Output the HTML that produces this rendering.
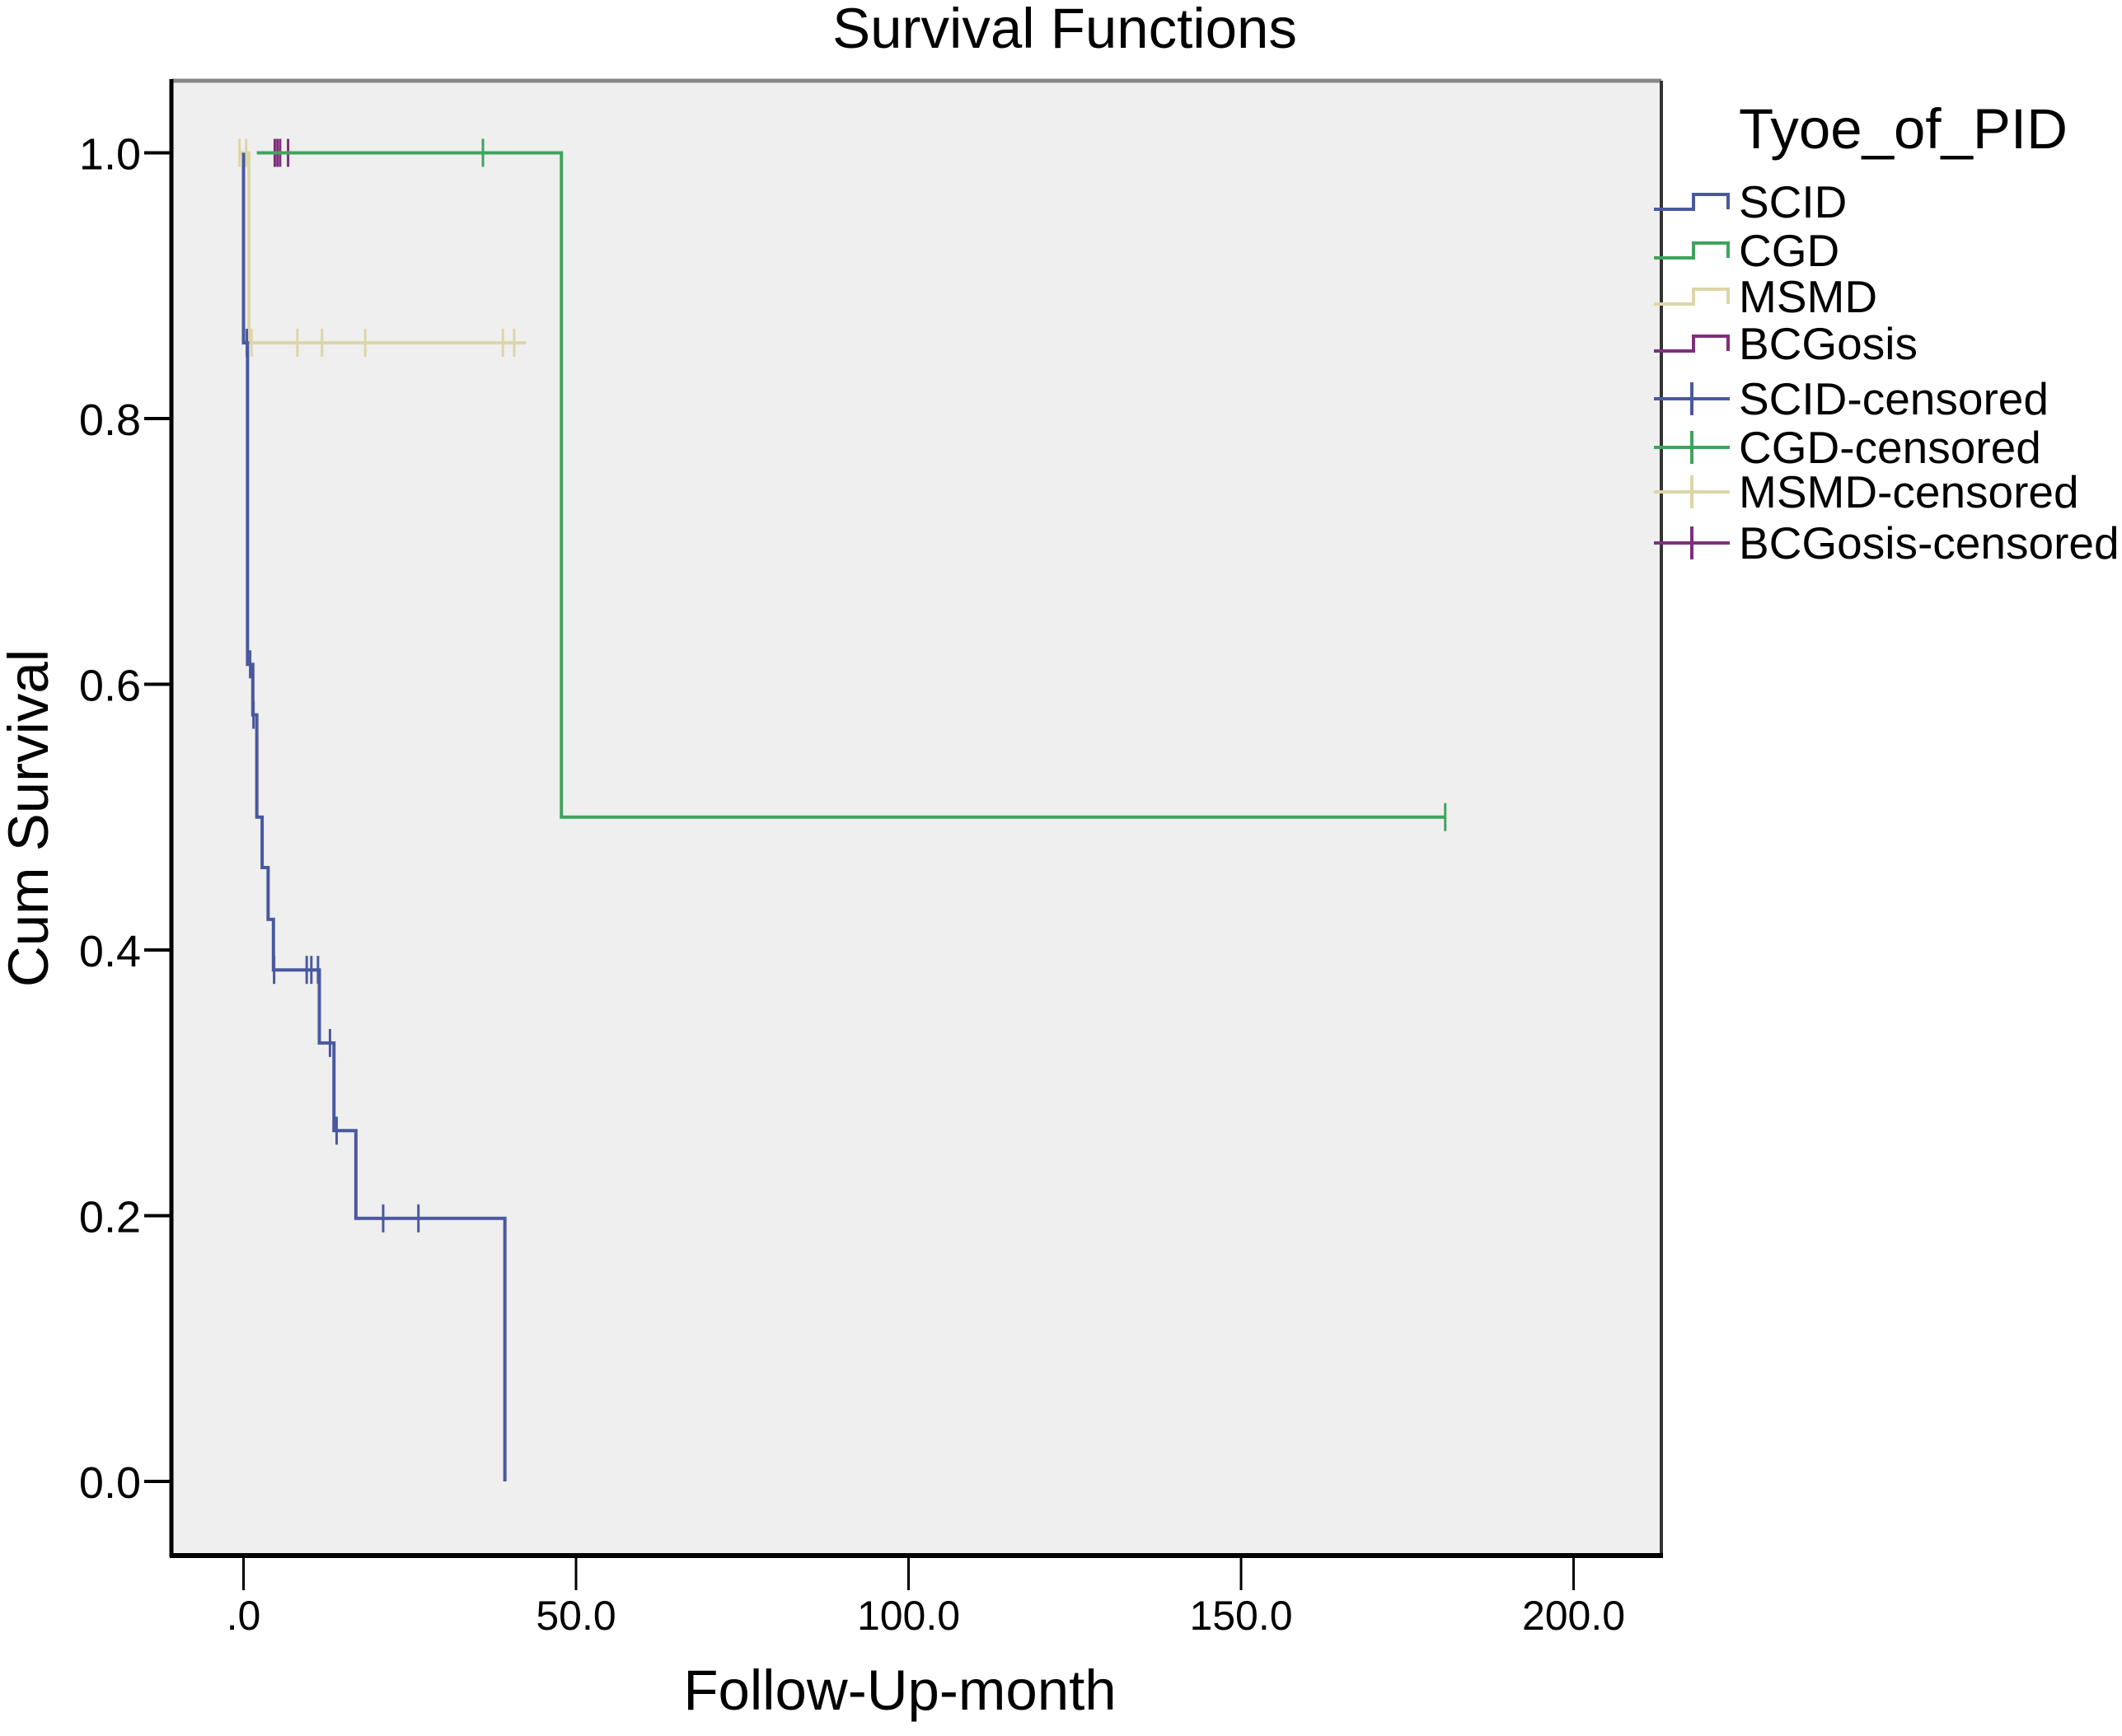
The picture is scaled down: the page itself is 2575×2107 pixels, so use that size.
<!DOCTYPE html>
<html><head><meta charset="utf-8"><style>
html,body{margin:0;padding:0;background:#fff;}
svg{display:block;font-family:"Liberation Sans",Arial,sans-serif;}
</style></head><body>
<svg id="chart" width="2575" height="2107" viewBox="0 0 2575 2107">
<rect x="208" y="98" width="1808" height="1790" fill="#efefef"/>
<g id="marks"></g>
<line x1="208" y1="98" x2="2016" y2="98" stroke="#888" stroke-width="5"/>
<line x1="2016" y1="98" x2="2016" y2="1888" stroke="#333" stroke-width="4"/>
<line x1="208" y1="96" x2="208" y2="1890" stroke="#000" stroke-width="5"/>
<line x1="206" y1="1888" x2="2018" y2="1888" stroke="#000" stroke-width="6"/>
<g id="axes"></g>
<text x="1292" y="58" font-size="69" text-anchor="middle">Survival Functions</text>
<text x="1092" y="2075" font-size="69" text-anchor="middle">Follow-Up-month</text>
<text transform="translate(58,993) rotate(-90)" font-size="69" text-anchor="middle">Cum Survival</text>
<g id="legend">
<text x="2110" y="180" font-size="69">Tyoe_of_PID</text>
</g>
</svg>
<script>
const xTicks=[0,50,100,150,200];
const xTickLabels=[".0","50.0","100.0","150.0","200.0"];
const yTicks=[0,0.2,0.4,0.6,0.8,1.0];
const yTickLabels=["0.0","0.2","0.4","0.6","0.8","1.0"];
const seriesNames=["SCID","CGD","MSMD","BCGosis"];
const seriesColors=["#4a58a0","#3fa35e","#ddd5a8","#7e2f7c"];
const scidTimes=[0,0.6,1.4,2.0,2.8,3.7,4.5,11.4,13.6,16.9,39.3];
const scidSurv=[0.857,0.615,0.577,0.5,0.462,0.423,0.385,0.33,0.264,0.198,0];
const scidCens=[0.5,1.0,1.5,4.6,9.5,10.2,11.2,13.0,14.0,21.0,26.3];
const cgdTimes=[47.8];
const cgdSurv=[0.5];
const cgdCens=[36.0,180.7];
const msmdTimes=[0.8];
const msmdSurv=[0.857];
const msmdCens=[-0.6,0.4,1.2,8.1,11.8,18.3,39.0,40.7];
const bcgTimes=[];
const bcgSurv=[];
const bcgCens=[4.7,5.1,5.5,6.7];
const startTimes=[0,2,-0.6,3.5];
const endTimes=[39.3,180.7,42.5,6.7];

const NS="http://www.w3.org/2000/svg";
function xs(t){return 295.5+t*8.07;}
function ys(v){return 1798-v*1612.5;}
function mk(tag,attrs,parent){const e=document.createElementNS(NS,tag);for(const k in attrs)e.setAttribute(k,attrs[k]);parent.appendChild(e);return e;}
const axes=document.getElementById('axes');
xTicks.forEach((t,i)=>{
  const l=mk('line',{x1:xs(t),y1:1888,x2:xs(t),y2:1930,stroke:'#000','stroke-width':3},axes);
  
  
  const tx=mk('text',{x:xs(t),y:1978,'font-size':50,'text-anchor':'middle'},axes);
  tx.textContent=xTickLabels[i];
  
  
});
yTicks.forEach((v,i)=>{
  const l=mk('line',{x1:175,y1:ys(v),x2:208,y2:ys(v),stroke:'#000','stroke-width':4},axes);
  
  
  const tx=mk('text',{x:171,y:ys(v)+20,'font-size':54,'text-anchor':'end'},axes);
  tx.textContent=yTickLabels[i];
  
  
});
const marks=document.getElementById('marks');
function survAt(times,surv,t){let s=1;for(let i=0;i<times.length;i++){if(times[i]<=t)s=surv[i];}return s;}
const allSeries=[[scidTimes,scidSurv,scidCens],[cgdTimes,cgdSurv,cgdCens],[msmdTimes,msmdSurv,msmdCens],[bcgTimes,bcgSurv,bcgCens]];
const order=[2,3,1,0];
order.forEach(si=>{
  const [times,surv,cens]=allSeries[si];
  const c=seriesColors[si];
  let d='M'+xs(startTimes[si])+','+ys(1);
  for(let i=0;i<times.length;i++){d+=' H'+xs(times[i])+' V'+ys(surv[i]);}
  if(endTimes[si]>(times.length?times[times.length-1]:startTimes[si]))d+=' H'+xs(endTimes[si]);
  const p=mk('path',{d:d,fill:'none',stroke:c,'stroke-width':4},marks);
  
  
  cens.forEach(t=>{
    const v=survAt(times,surv,t);
    const l=mk('line',{x1:xs(t),y1:ys(v)-17,x2:xs(t),y2:ys(v)+17,stroke:c,'stroke-width':3},marks);
    
    
  });
});
const lg=document.getElementById('legend');
const lgY=[245,304,360,417,484,543,597,659];
const lgLabels=["SCID","CGD","MSMD","BCGosis","SCID-censored","CGD-censored","MSMD-censored","BCGosis-censored"];
lgLabels.forEach((lab,i)=>{
  const c=seriesColors[i%4];const y=lgY[i];
  let sym;
  if(i<4){
    sym=mk('path',{d:`M2007,${y+9} H2055 V${y-9} H2097 V${y+9}`,fill:'none',stroke:c,'stroke-width':4},lg);
  }else{
    sym=mk('path',{d:`M2007,${y} H2099 M2053,${y-20} V${y+20}`,fill:'none',stroke:c,'stroke-width':4},lg);
  }
  
  
  const t=mk('text',{x:2110,y:y+19,'font-size':55},lg);
  t.textContent=lab;
  
  
});
</script>
</body></html>
